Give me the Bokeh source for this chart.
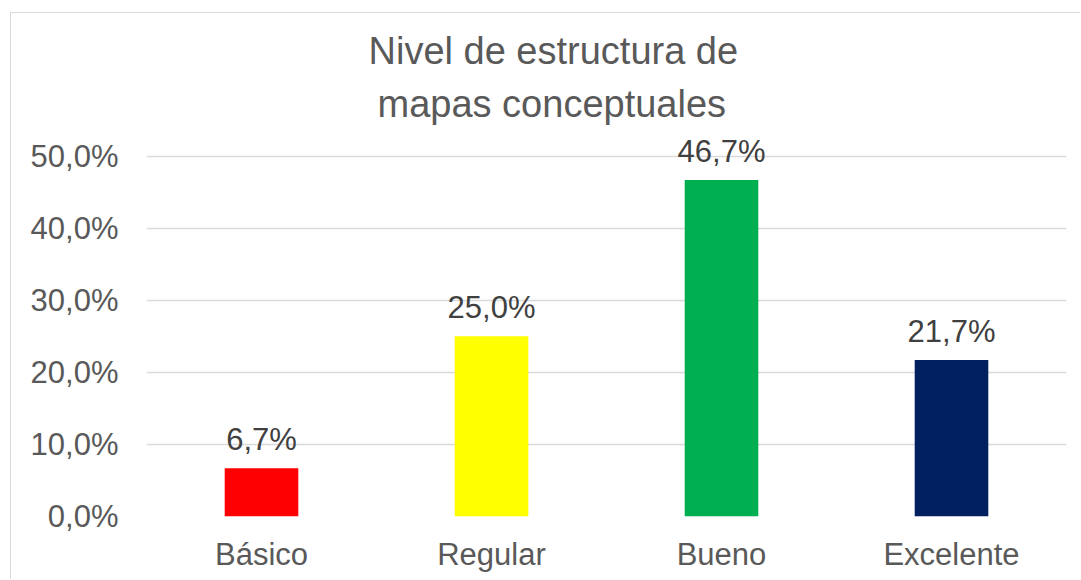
from bokeh.plotting import figure
from bokeh.models import ColumnDataSource, LabelSet, FixedTicker, Title
from bokeh.core.properties import value
from bokeh.embed import file_html
from bokeh.resources import INLINE

categories = ["Básico", "Regular", "Bueno", "Excelente"]
values = [6.7, 25.0, 46.7, 21.7]
colors = ["#ff0000", "#ffff00", "#00b050", "#002060"]
y_ticks = [0, 10, 20, 30, 40, 50]
y_tick_labels = ["0,0%", "10,0%", "20,0%", "30,0%", "40,0%", "50,0%"]
title_lines = ["Nivel de estructura de", "mapas conceptuales"]

labels = [f"{v:.1f}".replace(".", ",") + "%" for v in values]
src = ColumnDataSource(dict(cat=categories, val=values, color=colors, lab=labels))

FONT = "Liberation Sans"

p = figure(x_range=categories, y_range=(0, 53), width=1070, height=567,
           output_backend="svg", toolbar_location=None,
           min_border_left=135, min_border_right=15, min_border_top=121, min_border_bottom=64)
p.x_range.range_padding = 0
p.styles = {"border-left": "1px solid #d9d9d9", "border-top": "1px solid #d9d9d9",
            "margin-left": "10px", "margin-top": "12px"}

# title lines: first added sits closest to the frame; left-aligned with offsets so
# each line is centred on the whole chart rather than on the plot frame
for line, off, so in zip(reversed(title_lines), [231, 222], [19, 0]):
    t = Title(text=line, align="left", text_font=FONT, text_font_size="38px",
              text_font_style="normal", text_color="#595959",
              standoff=so, offset=off)
    p.add_layout(t, "above")

p.vbar(x="cat", top="val", width=0.32, color="color", source=src, line_color=None)

p.add_layout(LabelSet(x="cat", y="val", text="lab", source=src, y_offset=18,
                      text_align="center", text_baseline="alphabetic",
                      text_font=value(FONT), text_font_size="31px", text_color="#404040"))

p.outline_line_color = None
p.xgrid.grid_line_color = None
p.ygrid.grid_line_color = "#d9d9d9"
p.ygrid.grid_line_width = 1.5
p.yaxis.ticker = FixedTicker(ticks=y_ticks)
p.ygrid.ticker = FixedTicker(ticks=y_ticks)
p.yaxis.major_label_overrides = {t: l for t, l in zip(y_ticks, y_tick_labels)}

for ax in (p.xaxis, p.yaxis):
    ax.axis_line_color = None
    ax.major_tick_line_color = None
    ax.minor_tick_line_color = None
    ax.major_tick_out = 0
    ax.major_tick_in = 0
    ax.major_label_text_font = FONT
    ax.major_label_text_font_size = "31px"
    ax.major_label_text_color = "#595959"
p.yaxis.major_label_standoff = 28
p.xaxis.major_label_standoff = 20

open("out.html", "w").write(file_html(p, INLINE))
